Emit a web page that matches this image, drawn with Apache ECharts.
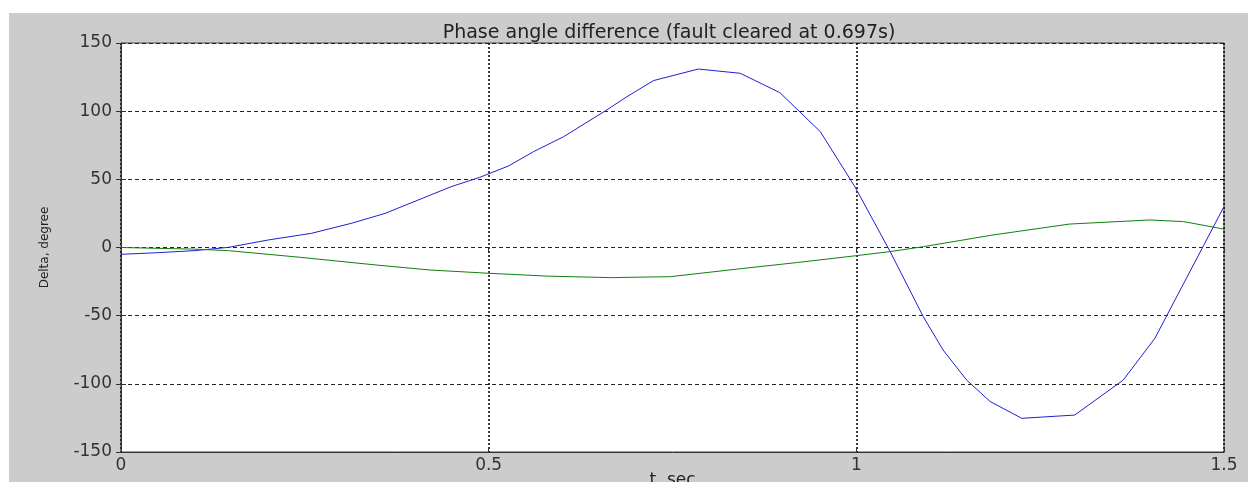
<!DOCTYPE html>
<html lang="en">
<head>
    <meta charset="UTF-8">
    <title>Phase angle difference</title>
    <script src="https://cdn.jsdelivr.net/npm/echarts@6/dist/echarts.min.js"></script>
    <style>
        html, body { margin: 0; padding: 0; background: #fff; }
        #chart { position: absolute; left: 9px; top: 13px; width: 1239px; height: 469px; }
    </style>
</head>
<body>
<div id="chart"></div>
<script>
    // axis ticks
    const xTicks = [0, 0.5, 1, 1.5];
    const yTicks = [-150, -100, -50, 0, 50, 100, 150];

    // time points / values (t in s, delta in degree)
    const blueT = [0, 0.05, 0.10, 0.146, 0.20, 0.259, 0.313, 0.359, 0.404, 0.449, 0.488, 0.527, 0.561,
        0.602, 0.658, 0.688, 0.724, 0.785, 0.842, 0.896, 0.951, 0.998, 1.046, 1.091, 1.118, 1.150,
        1.182, 1.225, 1.297, 1.363, 1.406, 1.5];
    const blueV = [-5, -3.8, -2.3, 0.1, 5.5, 10.4, 17.7, 25, 34.8, 44.6, 51.5, 59.8, 70.3,
        81.3, 100, 110.6, 122.4, 130.9, 127.8, 113.6, 85, 44.6, -3, -50.7, -75.2, -97.2,
        -113, -125.3, -122.9, -97.2, -66.6, 30];

    const greenT = [0, 0.1, 0.146, 0.244, 0.35, 0.42, 0.5, 0.58, 0.666, 0.747, 0.847, 0.92, 1.0,
        1.046, 1.091, 1.186, 1.29, 1.399, 1.445, 1.5];
    const greenV = [0, -1.2, -2.3, -7.2, -13, -16.5, -18.9, -21, -22.1, -21.4, -15.3, -11, -6,
        -3, 0.6, 9.2, 17.2, 20.2, 19, 13.5];

    const pairs = (t, v) => t.map((x, i) => [x, v[i]]);

    const font = 'DejaVu Sans';
    const chart = echarts.init(document.getElementById('chart'));
    chart.setOption({
        backgroundColor: '#cccccc',
        animation: false,
        title: {
            text: 'Phase angle difference (fault cleared at 0.697s)',
            left: 655,
            textAlign: 'center',
            top: 6,
            textStyle: { fontFamily: font, fontSize: 19, fontWeight: 'normal', color: '#222' }
        },
        grid: {
            left: 112, top: 30, right: 24, bottom: 30,
            containLabel: false, outerBoundsMode: 'none',
            show: true, backgroundColor: '#ffffff', borderColor: '#444', borderWidth: 1
        },
        xAxis: [{
            type: 'value',
            min: xTicks[0], max: xTicks[xTicks.length - 1], interval: xTicks[1] - xTicks[0],
            name: 't, sec', nameLocation: 'middle', nameGap: 20, nameMoveOverlap: false,
            nameTextStyle: { fontFamily: font, fontSize: 17, color: '#222', verticalAlign: 'top' },
            axisLine: { show: true, onZero: false, lineStyle: { color: '#333' } },
            axisTick: { inside: true, length: 5, lineStyle: { color: '#333' } },
            axisLabel: { fontFamily: font, fontSize: 17, color: '#333', margin: 5 },
            splitLine: { show: true, lineStyle: { color: '#000', type: [2, 2], width: 1.5 } }
        }, {
            type: 'value', position: 'top',
            min: xTicks[0], max: xTicks[xTicks.length - 1], interval: xTicks[1] - xTicks[0],
            axisLine: { show: false },
            axisTick: { inside: true, length: 5, lineStyle: { color: '#333' } },
            axisLabel: { show: false },
            splitLine: { show: false }
        }],
        yAxis: [{
            type: 'value',
            min: yTicks[0], max: yTicks[yTicks.length - 1], interval: yTicks[1] - yTicks[0],
            name: 'Delta, degree', nameLocation: 'middle', nameGap: 70, nameRotate: 90,
            nameMoveOverlap: false,
            nameTextStyle: { fontFamily: font, fontSize: 12, color: '#222' },
            axisLine: { show: true, onZero: false, lineStyle: { color: '#333' } },
            axisTick: { inside: true, length: 5, lineStyle: { color: '#333' } },
            axisLabel: { fontFamily: font, fontSize: 17, color: '#333', margin: 9 },
            splitLine: { show: true, lineStyle: { color: '#222', type: [4, 3], width: 1 } }
        }, {
            type: 'value', position: 'right',
            min: yTicks[0], max: yTicks[yTicks.length - 1], interval: yTicks[1] - yTicks[0],
            axisLine: { show: false },
            axisTick: { inside: true, length: 5, lineStyle: { color: '#333' } },
            axisLabel: { show: false },
            splitLine: { show: false }
        }],
        series: [
            {
                name: 'delta 1', type: 'line', data: pairs(blueT, blueV),
                showSymbol: false, smooth: false,
                lineStyle: { color: '#2020d0', width: 1 }
            },
            {
                name: 'delta 2', type: 'line', data: pairs(greenT, greenV),
                showSymbol: false, smooth: false,
                lineStyle: { color: '#108010', width: 1 }
            }
        ]
    });
</script>
</body>
</html>
